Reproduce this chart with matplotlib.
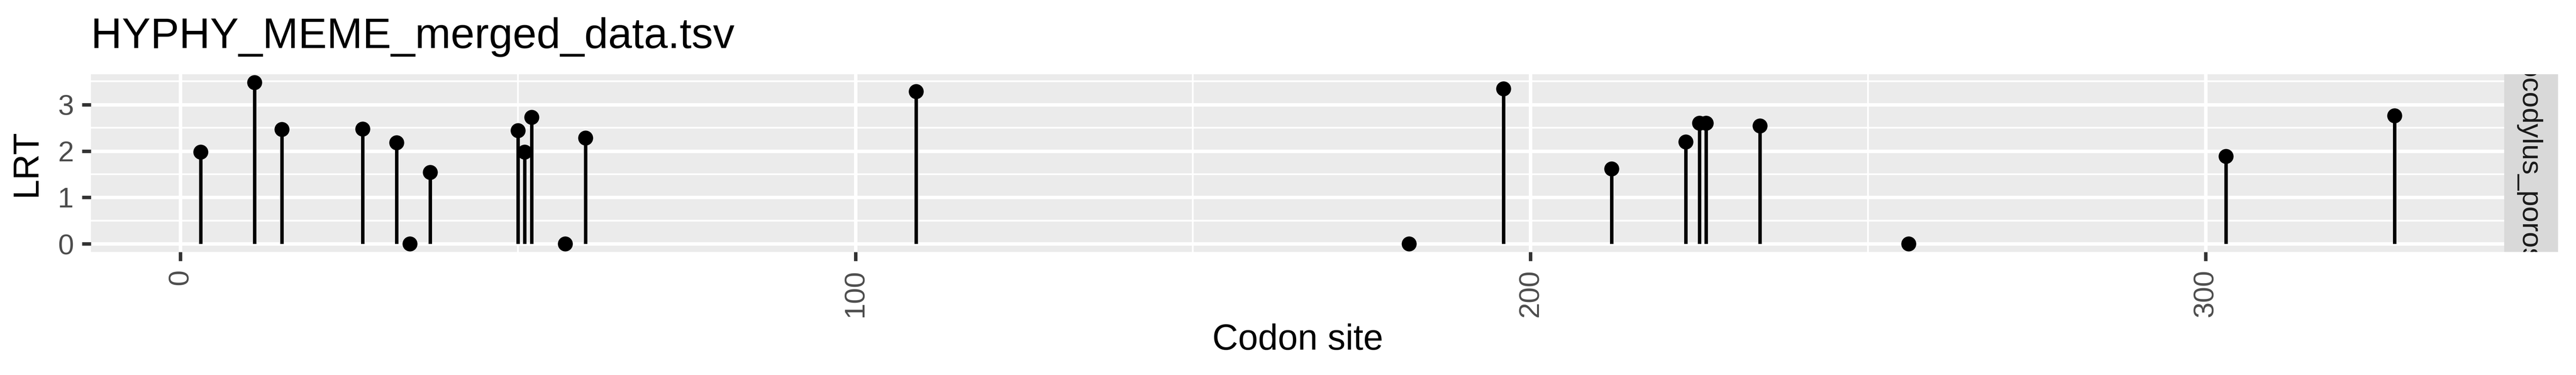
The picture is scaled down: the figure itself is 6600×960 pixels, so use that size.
import numpy as np
import matplotlib as mpl
mpl.use("Agg")
from matplotlib import pyplot as plt
from matplotlib.ticker import MultipleLocator

mpl.rcParams.update({
    "font.family": ["Liberation Sans", "DejaVu Sans"],
})

# MEME sites
sites = [3, 11, 15, 27, 32, 34, 37, 50, 51, 52, 57, 60, 109, 182, 196, 212,
         223, 225, 226, 234, 256, 303, 328]
lrt = [1.98, 3.48, 2.47, 2.48, 2.18, 0.0, 1.54, 2.44, 1.98, 2.73, 0.0, 2.28,
       3.28, 0.0, 3.34, 1.62, 2.20, 2.60, 2.60, 2.54, 0.0, 1.89, 2.76]
species = "Crocodylus_porosus"
title = "HYPHY_MEME_merged_data.tsv"
xticks = [0, 100, 200, 300]
yticks = [0, 1, 2, 3]

W, H = 6600, 960
dpi = 600
lw = 1.42 * 72 / 96  # ggplot 0.5 mm line in matplotlib points

grey_panel = "#EBEBEB"
grey_strip = "#D9D9D9"


def px(x0, y0, x1, y1):
    # pixel box (top-left origin) -> figure fraction rect
    return [x0 / W, 1 - y1 / H, (x1 - x0) / W, (y1 - y0) / H]


fig = plt.figure(figsize=(W / dpi, H / dpi), dpi=dpi)
ax = fig.add_axes(px(233, 190, 6416, 645))
ax_strip = fig.add_axes(px(6416, 190, 6554, 645))

x = np.array(sites, dtype=float)
y = np.array(lrt)

ax.set_facecolor(grey_panel)
ax.vlines(x, 0, y, color="black", lw=lw, capstyle="butt", zorder=3)
ax.plot(x, y, "o", color="black", markersize=4.6, markeredgewidth=0, zorder=4)

# ggplot style 5% expansion
xr = x.max() - x.min()
ax.set_xlim(x.min() - 0.05 * xr, x.max() + 0.05 * xr)
yr = y.max() - y.min()
ax.set_ylim(y.min() - 0.05 * yr, y.max() + 0.05 * yr)

ax.set_xticks(xticks)
ax.set_yticks(yticks)
ax.xaxis.set_minor_locator(MultipleLocator(50))
ax.yaxis.set_minor_locator(MultipleLocator(0.5))
ax.grid(which="major", color="white", lw=lw, zorder=1)
ax.grid(which="minor", color="white", lw=lw / 2, zorder=0.5)
ax.set_axisbelow(True)
for s in ax.spines.values():
    s.set_visible(False)

ax.tick_params(which="major", length=2.74, width=lw, color="#333333",
               labelsize=8.8, labelcolor="#4D4D4D", pad=2.6)
ax.tick_params(which="minor", length=0)
ax.set_xticklabels([str(t) for t in xticks], rotation=90, va="top")

# facet strip on the right
ax_strip.set_facecolor(grey_strip)
ax_strip.set_xticks([])
ax_strip.set_yticks([])
for s in ax_strip.spines.values():
    s.set_visible(False)
ax_strip.text(0.45, 0.5, species, rotation=-90, ha="center", va="center",
              fontsize=8.8, color="#1A1A1A", transform=ax_strip.transAxes,
              clip_on=True)

fig.text(233 / W, 1 - 122.5 / H, title, fontsize=13.2, color="black",
         ha="left", va="baseline")
fig.text((233 + 6416) / 2 / W, 1 - 895 / H, "Codon site", fontsize=11,
         color="black", ha="center", va="baseline")
fig.text(112 / W, (1 - 417.5 / H), "LRT", fontsize=11, color="black",
         rotation=90, ha="right", va="center")

fig.savefig("out.png", dpi=dpi, facecolor="white")
